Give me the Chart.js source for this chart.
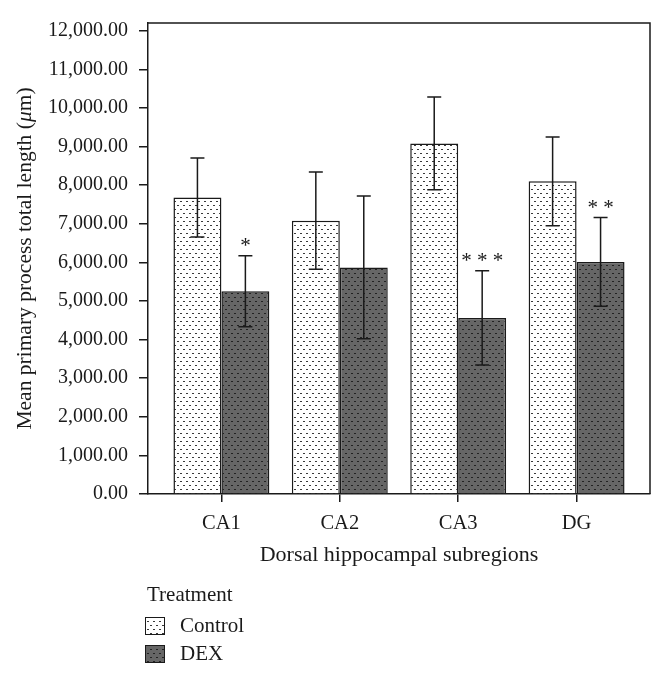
<!DOCTYPE html>
<html>
<head>
<meta charset="utf-8">
<script src="https://cdn.jsdelivr.net/npm/chart.js@4"></script>
<style>
    body { margin: 0; background: #fff; }
</style>
</head>
<body>
<canvas id="hippoChart" width="665" height="676"></canvas>
<script>
const categories = ['CA1', 'CA2', 'CA3', 'DG'];
const controlMeans = [7680, 7080, 9080, 8100];
const controlErrors = [1020, 1260, 1200, 1150];
const dexMeans = [5250, 5870, 4560, 6010];
const dexErrors = [920, 1850, 1220, 1150];
const dexStars = ['*', '', '***', '**'];
const yTicks = [0, 1000, 2000, 3000, 4000, 5000, 6000, 7000, 8000, 9000, 10000, 11000, 12000];

const serif = '"Liberation Serif", "DejaVu Serif", serif';
const ink = '#1a1a1a';

function makePattern(bg, dash) {
    const tile = document.createElement('canvas');
    tile.width = 6;
    tile.height = 8;
    const t = tile.getContext('2d');
    t.fillStyle = bg;
    t.fillRect(0, 0, 6, 8);
    t.fillStyle = dash;
    t.fillRect(0, 1, 2, 1);
    t.fillRect(3, 5, 2, 1);
    return document.getElementById('hippoChart').getContext('2d').createPattern(tile, 'repeat');
}

const controlFill = makePattern('#ffffff', '#3a3a3a');
const dexFill = makePattern('#666666', '#222222');

// error bars + significance stars
const errorBars = {
    id: 'errorBars',
    afterDatasetsDraw(chart) {
        const ctx = chart.ctx;
        const y = chart.scales.y;
        const sets = [[controlMeans, controlErrors], [dexMeans, dexErrors]];
        ctx.save();
        ctx.strokeStyle = ink;
        ctx.lineWidth = 1.5;
        sets.forEach((pair, d) => {
            const meta = chart.getDatasetMeta(d);
            meta.data.forEach((bar, i) => {
                const top = y.getPixelForValue(pair[0][i] + pair[1][i]);
                const bottom = y.getPixelForValue(pair[0][i] - pair[1][i]);
                ctx.beginPath();
                ctx.moveTo(bar.x, top);
                ctx.lineTo(bar.x, bottom);
                ctx.moveTo(bar.x - 7, top);
                ctx.lineTo(bar.x + 7, top);
                ctx.moveTo(bar.x - 7, bottom);
                ctx.lineTo(bar.x + 7, bottom);
                ctx.stroke();
                if (d === 1 && dexStars[i]) {
                    ctx.fillStyle = ink;
                    ctx.font = '21px ' + serif;
                    ctx.textAlign = 'center';
                    ctx.textBaseline = 'middle';
                    ctx.fillText(dexStars[i].split('').join(' '), bar.x, top - 9);
                }
            });
        });
        ctx.restore();
    }
};

// top/right frame, y title with italic mu, and the legend block
const frameAndLegend = {
    id: 'frameAndLegend',
    afterDraw(chart) {
        const ctx = chart.ctx;
        const a = chart.chartArea;
        ctx.save();
        ctx.strokeStyle = ink;
        ctx.lineWidth = 1.5;
        ctx.beginPath();
        ctx.moveTo(a.left, a.top);
        ctx.lineTo(a.right, a.top);
        ctx.lineTo(a.right, a.bottom);
        ctx.stroke();

        // y axis title
        const parts = [
            ['Mean primary process total length (', 'normal'],
            ['μ', 'italic'],
            ['m)', 'normal']
        ];
        let total = 0;
        parts.forEach(p => {
            ctx.font = p[1] + ' 21.5px ' + serif;
            total += ctx.measureText(p[0]).width;
        });
        ctx.save();
        ctx.translate(25, (a.top + a.bottom) / 2);
        ctx.rotate(-Math.PI / 2);
        ctx.fillStyle = ink;
        ctx.textBaseline = 'middle';
        ctx.textAlign = 'left';
        let px = -total / 2;
        parts.forEach(p => {
            ctx.font = p[1] + ' 21.5px ' + serif;
            ctx.fillText(p[0], px, 0);
            px += ctx.measureText(p[0]).width;
        });
        ctx.restore();

        // legend
        ctx.fillStyle = ink;
        ctx.font = '21px ' + serif;
        ctx.textBaseline = 'middle';
        ctx.textAlign = 'left';
        ctx.fillText('Treatment', 147, 595);
        chart.data.datasets.forEach((ds, i) => {
            const yy = 617 + i * 28;
            ctx.fillStyle = ds.backgroundColor;
            ctx.fillRect(145, yy, 20, 18);
            ctx.lineWidth = 1;
            ctx.strokeRect(145.5, yy + 0.5, 19, 17);
            ctx.fillStyle = ink;
            ctx.fillText(ds.label, 180, yy + 9);
        });
        ctx.restore();
    }
};

const ctx = document.getElementById('hippoChart').getContext('2d');

const myChart = new Chart(ctx, {
    type: 'bar',
    data: {
        datasets: [{
            label: 'Control',
            data: categories.map((c, i) => ({ x: i, y: controlMeans[i] })),
            backgroundColor: controlFill,
            borderColor: ink,
            borderWidth: 1.5,
            categoryPercentage: 0.81,
            barPercentage: 1
        }, {
            label: 'DEX',
            data: categories.map((c, i) => ({ x: i, y: dexMeans[i] })),
            backgroundColor: dexFill,
            borderColor: ink,
            borderWidth: 1.5,
            categoryPercentage: 0.81,
            barPercentage: 1
        }]
    },
    options: {
        responsive: false,
        animation: false,
        devicePixelRatio: 1,
        layout: {
            padding: { top: 15, right: 15, bottom: 108, left: 0 }
        },
        plugins: {
            legend: { display: false },
            tooltip: { enabled: false }
        },
        scales: {
            x: {
                type: 'linear',
                offset: false,
                min: -0.62,
                max: 3.62,
                afterBuildTicks: scale => {
                    scale.ticks = categories.map((c, i) => ({ value: i }));
                },
                afterFit: scale => { scale.height = 74; },
                ticks: {
                    callback: v => categories[v],
                    color: ink,
                    font: { family: serif, size: 20.5 },
                    padding: 9,
                    maxRotation: 0
                },
                grid: { offset: false, drawOnChartArea: false, tickLength: 8, color: ink, lineWidth: 1.5 },
                border: { color: ink, width: 1.5 },
                title: {
                    display: true,
                    text: 'Dorsal hippocampal subregions',
                    color: ink,
                    font: { family: serif, size: 22 },
                    padding: { top: 4, bottom: 0 }
                }
            },
            y: {
                min: 0,
                max: 12200,
                afterBuildTicks: scale => {
                    scale.ticks = yTicks.map(v => ({ value: v }));
                },
                afterFit: scale => { scale.width = 148; },
                ticks: {
                    callback: v => v.toLocaleString('en-US', { minimumFractionDigits: 2, maximumFractionDigits: 2 }),
                    color: ink,
                    font: { family: serif, size: 20 },
                    padding: 11
                },
                grid: { drawOnChartArea: false, tickLength: 9, color: ink, lineWidth: 1.5 },
                border: { color: ink, width: 1.5 }
            }
        }
    },
    plugins: [errorBars, frameAndLegend]
});
</script>
</body>
</html>
